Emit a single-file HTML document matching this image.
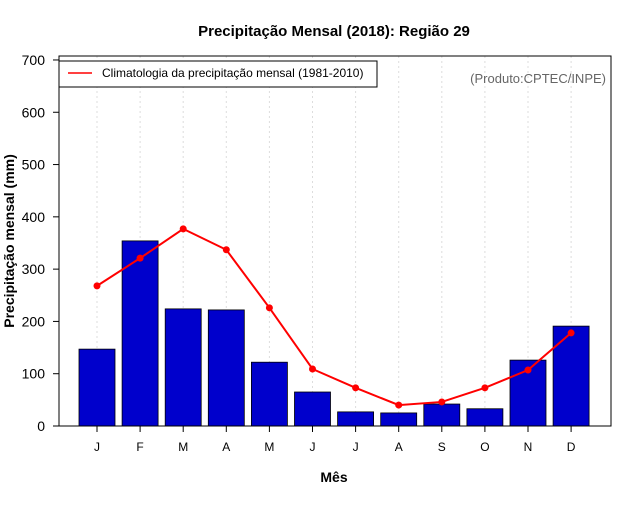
<!DOCTYPE html>
<html><head><meta charset="utf-8"><style>
body{margin:0;background:#fff;}
svg text{font-family:"Liberation Sans",sans-serif;}
</style></head><body>
<svg id="chart" width="640" height="500">
<text x="334" y="36" text-anchor="middle" font-size="15" font-weight="bold">Precipitação Mensal (2018): Região 29</text>
<g id="grid"></g><g id="bars"></g><g id="line"></g><g id="axes"></g>
<rect x="59" y="56" width="552" height="370" fill="none" stroke="#000"/>
<g>
<rect x="59" y="61" width="318" height="26" fill="#fff" stroke="#000"/>
<line x1="68" y1="73" x2="92" y2="73" stroke="red" stroke-width="1.5"/>
<text x="102" y="77" font-size="12">Climatologia da precipitação mensal (1981-2010)</text>
</g>
<text x="606" y="83" text-anchor="end" font-size="13" fill="#666">(Produto:CPTEC/INPE)</text>
<text x="334" y="482" text-anchor="middle" font-size="14" font-weight="bold">Mês</text>
<text transform="translate(14,241) rotate(-90)" text-anchor="middle" font-size="14" font-weight="bold">Precipitação mensal (mm)</text>
</svg>
<script>
const months=["J","F","M","A","M","J","J","A","S","O","N","D"];
const observed=[147,354,224,222,122,65,27,25,42,33,126,191];
const climatology=[268,321,377,337,226,109,73,40,46,73,107,178];
const yTicks=[0,100,200,300,400,500,600,700];
const NS="http://www.w3.org/2000/svg";
const y=v=>426-v*0.5229;
const x=i=>97+i*43.1;
function mk(t,a,p){const e=document.createElementNS(NS,t);for(const k in a)e.setAttribute(k,a[k]);p.appendChild(e);return e;}
const G=document.getElementById('grid'),B=document.getElementById('bars'),L=document.getElementById('line'),A=document.getElementById('axes');
months.forEach((m,i)=>{
 const g=mk('line',{x1:x(i),x2:x(i),y1:56,y2:426,stroke:'#ddd','stroke-dasharray':'2,3'},G);
 
 
 const b=mk('rect',{x:x(i)-18,y:y(observed[i]),width:36,height:426-y(observed[i]),fill:'#0000cc',stroke:'#000','stroke-width':0.8},B);
 
 
 const tk=mk('line',{x1:x(i),x2:x(i),y1:426,y2:432,stroke:'#000'},A);
 
 
 const t=mk('text',{x:x(i),y:451,'text-anchor':'middle','font-size':12},A);
 t.textContent=m;
 
 
});
const pl=mk('polyline',{points:climatology.map((v,i)=>x(i)+','+y(v)).join(' '),fill:'none',stroke:'red','stroke-width':2},L);


climatology.forEach((v,i)=>{
 const c=mk('circle',{cx:x(i),cy:y(v),r:3.5,fill:'red'},L);
 
 
});
yTicks.forEach(v=>{
 const tk=mk('line',{x1:53,x2:59,y1:y(v),y2:y(v),stroke:'#000'},A);
 
 
 const t=mk('text',{x:45,y:y(v)+5,'text-anchor':'end','font-size':14},A);
 t.textContent=v;
 
 
});
</script>
</body></html>
